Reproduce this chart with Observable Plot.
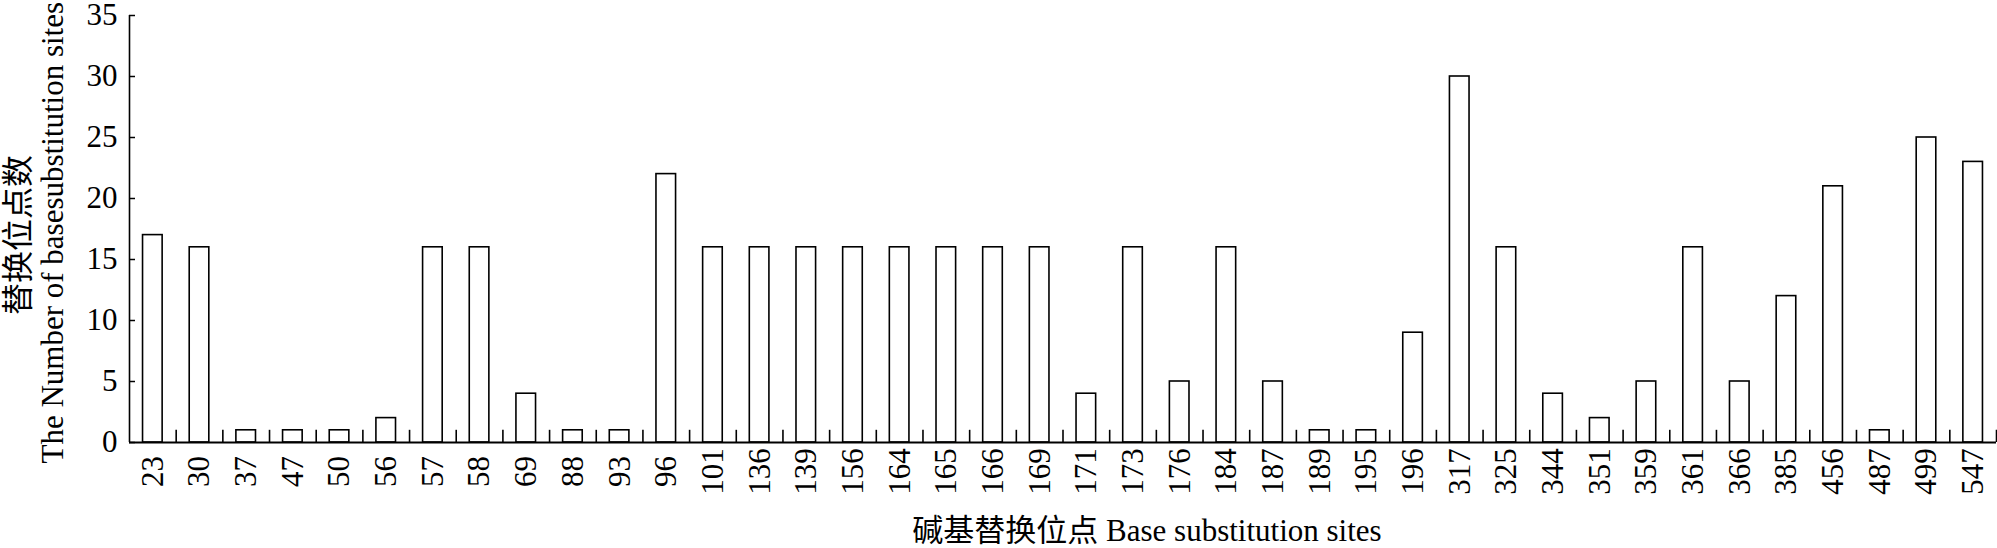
<!DOCTYPE html>
<html>
<head>
<meta charset="utf-8">
<script src="https://cdn.jsdelivr.net/npm/d3@7"></script>
<script src="https://cdn.jsdelivr.net/npm/@observablehq/plot@0.6"></script>
<style>
  html, body { margin: 0; padding: 0; background: white; }
</style>
</head>
<body>
<div id="chart"></div>
<script>
const sites = ["23","30","37","47","50","56","57","58","69","88","93","96","101","136","139","156","164","165","166","169","171","173","176","184","187","189","195","196","317","325","344","351","359","361","366","385","456","487","499","547"];
const counts = [17,16,1,1,1,2,16,16,4,1,1,22,16,16,16,16,16,16,16,16,4,16,5,16,5,1,1,9,30,16,4,2,5,16,5,12,21,1,25,23];
const yTicks = [0,5,10,15,20,25,30,35];
const yLabelZh = "替换位点数";
const yLabelEn = "The Number of basesubstitution sites";
const xLabel = "碱基替换位点 Base substitution sites";

const data = sites.map((s, i) => ({site: s, count: counts[i]}));

const W = 1997, H = 548;
const mL = 129, mR = 1, mT = 15, mB = 106;
const step = (W - mL - mR) / sites.length;
const font = "'Liberation Serif', 'Times New Roman', 'Noto Sans CJK SC', serif";

const chart = Plot.plot({
  width: W,
  height: H,
  marginLeft: mL,
  marginRight: mR,
  marginTop: mT,
  marginBottom: mB,
  style: {fontFamily: font, fontSize: "31px", color: "black", background: "white", overflow: "visible"},
  x: {domain: sites, paddingInner: 0.58, paddingOuter: 0.29, round: false, label: null, axis: null},
  y: {domain: [0, 35], label: null},
  marks: [
    Plot.axisY({ticks: yTicks, tickSize: -6, tickPadding: 18, label: null, fontSize: 31, stroke: "black", strokeWidth: 1.5}),
    Plot.text(sites, {x: d => d, text: d => d, frameAnchor: "bottom", rotate: -90, textAnchor: "middle", lineAnchor: "middle", dy: 29, fontSize: 31, fill: "black"}),
    Plot.barY(data, {x: "site", y: "count", fill: "white", stroke: "black", strokeWidth: 1.6}),
    Plot.ruleY([0], {stroke: "black", strokeWidth: 2}),
    Plot.ruleX(sites.slice(1), {x: d => d, y1: 0, y2: 1, dx: -step / 2, stroke: "black", strokeWidth: 1.6}),
    Plot.ruleX([sites[sites.length - 1]], {x: d => d, y1: 0, y2: 1, dx: step / 2, stroke: "black", strokeWidth: 1.6}),
    Plot.ruleX([sites[0]], {x: d => d, y1: 0, y2: 35, dx: -step / 2, stroke: "black", strokeWidth: 1.6}),
    Plot.text([yLabelZh], {text: d => d, frameAnchor: "left", rotate: -90, textAnchor: "middle", lineAnchor: "middle", dx: -111, dy: 6, fontSize: 32, fill: "black"}),
    Plot.text([yLabelEn], {text: d => d, frameAnchor: "bottom-left", rotate: -90, textAnchor: "start", lineAnchor: "middle", dx: -76, dy: 21, fontSize: 31, fill: "black"}),
    Plot.text([xLabel], {text: d => d, frameAnchor: "bottom", lineAnchor: "middle", dx: 84, dy: 89, fontSize: 31, fill: "black"})
  ]
});
document.getElementById("chart").appendChild(chart);
</script>
</body>
</html>
